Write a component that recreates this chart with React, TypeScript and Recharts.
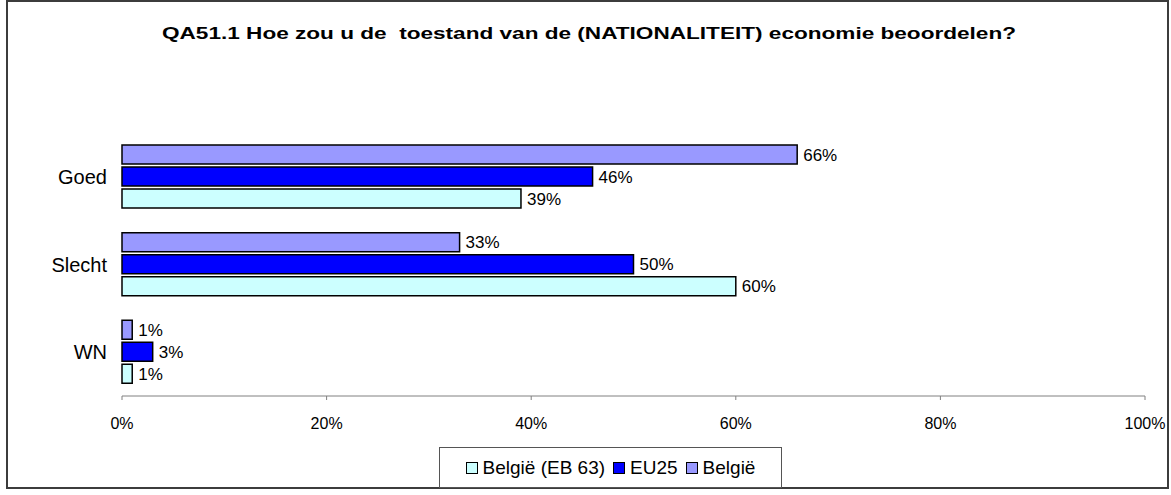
import React from "react";
import { BarChart, Bar, XAxis, YAxis, LabelList } from "recharts";

const categories = ["Goed", "Slecht", "WN"];
const belgie = [66, 33, 1];
const eu25 = [46, 50, 3];
const belgieEb63 = [39, 60, 1];
const xTicks = [0, 20, 40, 60, 80, 100];

const title =
  "QA51.1 Hoe zou u de  toestand van de (NATIONALITEIT) economie beoordelen?";

// drawn top to bottom inside each category
const series = [
  { key: "belgie", name: "België", color: "#9999FF" },
  { key: "eu25", name: "EU25", color: "#0000FF" },
  { key: "eb63", name: "België (EB 63)", color: "#CCFFFF" },
];
// legend shows them the other way round
const legendOrder = ["eb63", "eu25", "belgie"];

const font = "'Liberation Sans', Arial, sans-serif";

const data = categories.map((c, i) => ({
  name: c,
  belgie: belgie[i],
  eu25: eu25[i],
  eb63: belgieEb63[i],
}));

export default function App() {
  return (
    <div
      style={{
        position: "absolute",
        left: 0,
        top: 0,
        width: 1171,
        height: 495,
        background: "#fff",
        fontFamily: font,
      }}
    >
      <div
        style={{
          position: "absolute",
          left: 6,
          top: 0,
          width: 1163,
          height: 489,
          border: "2px solid #3c3c3c",
          boxSizing: "border-box",
        }}
      />
      <svg
        width={1171}
        height={60}
        style={{ position: "absolute", left: 0, top: 0 }}
      >
        <text
          x={589}
          y={39}
          textAnchor="middle"
          fontFamily={font}
          fontWeight="bold"
          fontSize={17}
          textLength={854}
          lengthAdjust="spacingAndGlyphs"
          fill="#000"
          style={{ whiteSpace: "pre" }}
        >
          {title}
        </text>
      </svg>
      <div style={{ position: "absolute", left: 0, top: 0 }}>
        <BarChart
          width={1171}
          height={495}
          data={data}
          layout="vertical"
          margin={{ top: 133, right: 26, left: 0, bottom: 69 }}
          barSize={19}
          barGap={3}
          barCategoryGap={12}
        >
          <XAxis
            type="number"
            domain={[0, 100]}
            ticks={xTicks}
            tickFormatter={(v) => `${v}%`}
            height={30}
            stroke="#808080"
            tickSize={4}
            tickMargin={18}
            tick={{ fill: "#000", fontSize: 16, fontFamily: font }}
            interval={0}
          />
          <YAxis
            type="category"
            dataKey="name"
            width={122}
            axisLine={false}
            tickLine={false}
            tickSize={0}
            tickMargin={15}
            tick={{ fill: "#000", fontSize: 20, fontFamily: font }}
          />
          {series.map((s) => (
            <Bar
              key={s.key}
              dataKey={s.key}
              name={s.name}
              fill={s.color}
              stroke="#000"
              strokeWidth={1.5}
              isAnimationActive={false}
            >
              <LabelList
                dataKey={s.key}
                position="right"
                offset={6}
                formatter={(v: any) => `${v}%`}
                style={{ fill: "#000", fontSize: 17, fontFamily: font }}
              />
            </Bar>
          ))}
        </BarChart>
      </div>
      <div
        style={{
          position: "absolute",
          left: 439,
          top: 447,
          width: 343,
          height: 41,
          border: "1px solid #555",
          boxSizing: "border-box",
          display: "flex",
          alignItems: "center",
          justifyContent: "center",
          gap: 8,
          fontSize: 19,
          color: "#000",
          background: "#fff",
        }}
      >
        {legendOrder.map((k) => {
          const s = series.find((x) => x.key === k)!;
          return (
            <span
              key={k}
              style={{ display: "flex", alignItems: "center", gap: 5 }}
            >
              <span
                style={{
                  display: "inline-block",
                  width: 10,
                  height: 10,
                  background: s.color,
                  border: "1.5px solid #000",
                }}
              />
              {s.name}
            </span>
          );
        })}
      </div>
    </div>
  );
}
